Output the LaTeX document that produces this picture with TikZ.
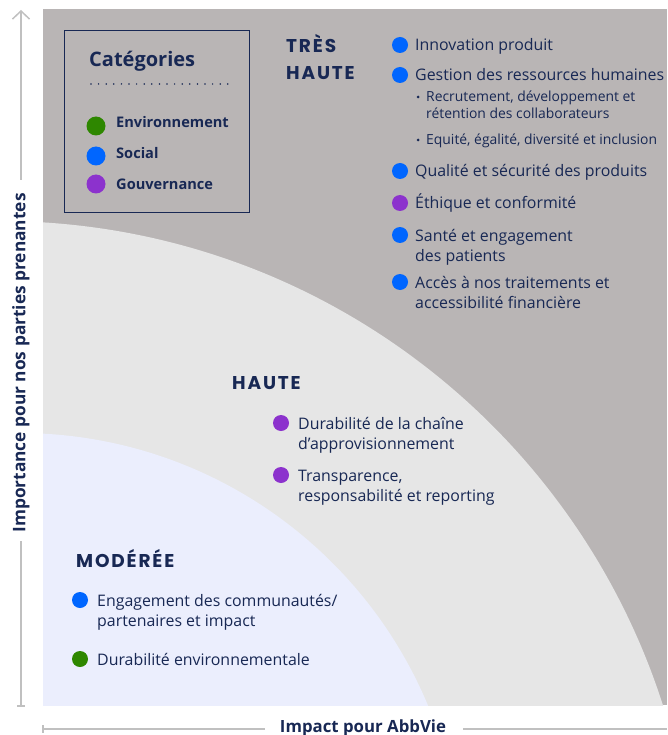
\documentclass[tikz,border=0pt]{standalone}
\usepackage{fontspec}
\setmainfont{Open Sans}
\newfontfamily\headfont{Poppins}[LetterSpace=10]
\usetikzlibrary{arrows.meta}
\definecolor{navy}{RGB}{24,40,84}
\definecolor{bgray}{RGB}{185,181,181}
\definecolor{lgray}{RGB}{230,230,230}
\definecolor{lav}{RGB}{235,238,253}
\definecolor{cblue}{RGB}{0,102,255}
\definecolor{cgreen}{RGB}{46,135,0}
\definecolor{cpurple}{RGB}{140,50,205}
\definecolor{axisc}{RGB}{192,192,192}
\begin{document}
\begin{tikzpicture}[x=1pt,y=-1pt,
  body/.style={anchor=base west, inner sep=0, text=navy, font=\fontsize{15.9}{20}\selectfont, align=left},
  sub/.style={anchor=base west, inner sep=0, text=navy, font=\fontsize{13.9}{17}\selectfont, align=left},
  head/.style={anchor=base west, inner sep=0, text=navy, font=\headfont\bfseries\fontsize{18.5}{27}\selectfont, align=left},
  leg/.style={anchor=base west, inner sep=0, text=navy, font=\bfseries\fontsize{14.6}{18}\selectfont},
  dot/.style={circle, inner sep=0, minimum size=16pt},
  ldot/.style={circle, inner sep=0, minimum size=19pt},
  sdot/.style={circle, inner sep=0, minimum size=3pt, fill=navy},
  axis/.style={draw=axisc, line width=1.5pt},
  axlab/.style={inner sep=0, text=navy, font=\bfseries\fontsize{16.8}{20}\selectfont},
]
\useasboundingbox (0,0) rectangle (667,735);
% background zones
\fill[bgray] (43,9) rectangle (667,705);
\begin{scope}
  \clip (43,9) rectangle (667,705);
  \fill[lgray] (-1,918) circle (697pt);
  \fill[lav] (19,876) circle (443pt);
\end{scope}

% legend
\node[draw=navy, line width=1.2pt, minimum width=185pt, minimum height=182pt, anchor=north west, inner sep=0] (legbox) at (64,30) {};
\node[anchor=base west, inner sep=0, text=navy, font=\bfseries\fontsize{20}{24}\selectfont] (legtitle) at (89,67) {Catégories};
\coordinate (dl0) at (91,84);
\coordinate (dl1) at (228,84);
\draw[navy, line width=1.7pt, dash pattern=on 0pt off 7.6pt, line cap=round] (dl0) -- (dl1);
\node[ldot, fill=cgreen] (lg) at (96,126) {};
\node[leg] (lgt) at (116,128) {Environnement};
\node[ldot, fill=cblue] (lb) at (96,156) {};
\node[leg] (lbt) at (116,159) {Social};
\node[ldot, fill=cpurple] (lp) at (96,184) {};
\node[leg] (lpt) at (116,190) {Gouvernance};

% TRES HAUTE (multi-line nodes: base = last line)
\node[head] (h1) at (286,80) {TRÈS\\HAUTE};
\node[dot, fill=cblue] (d1) at (400,45) {};
\node[body] (t1) at (415,51) {Innovation produit};
\node[dot, fill=cblue] (d2) at (400,75) {};
\node[body] (t2) at (415,81) {Gestion des ressources humaines};
\node[sdot] (s1) at (418,97) {};
\node[sub] (st1) at (426,119) {Recrutement, développement et\\rétention des collaborateurs};
\node[sdot] (s2) at (418,140) {};
\node[sub] (st2) at (426,145) {Equité, égalité, diversité et inclusion};
\node[dot, fill=cblue] (d3) at (400,171) {};
\node[body] (t3) at (415,177) {Qualité et sécurité des produits};
\node[dot, fill=cpurple] (d4) at (400,203) {};
\node[body] (t4) at (415,209) {Éthique et conformité};
\node[dot, fill=cblue] (d5) at (400,235) {};
\node[body] (t5) at (415,261) {Santé et engagement\\des patients};
\node[dot, fill=cblue] (d6) at (400,282) {};
\node[body] (t6) at (415,308) {Accès à nos traitements et\\accessibilité financière};

% HAUTE
\node[head] (h2) at (232,389) {HAUTE};
\node[dot, fill=cpurple] (d7) at (281,423) {};
\node[body] (t7) at (298,449) {Durabilité de la chaîne\\d’approvisionnement};
\node[dot, fill=cpurple] (d8) at (281,475) {};
\node[body] (t8) at (298,501) {Transparence,\\responsabilité et reporting};

% MODEREE
\node[head] (h3) at (76,567) {MODÉRÉE};
\node[dot, fill=cblue] (d9) at (80,600) {};
\node[body] (t9) at (97,626) {Engagement des communautés/\\partenaires et impact};
\node[dot, fill=cgreen] (d10) at (80,659) {};
\node[body] (t10) at (97,665) {Durabilité environnementale};

% vertical axis
\node[axlab, rotate=90, font=\bfseries\fontsize{17.3}{20}\selectfont] (ylab) at (21,363) {Importance pour nos parties prenantes};
\coordinate (ya) at (21,180);
\coordinate (yt) at (21,10);
\coordinate (yb) at (21,541);
\coordinate (ye) at (21,706);
\coordinate (yel) at (17,706);
\coordinate (yer) at (25,706);
\draw[axis, -{Straight Barb[length=8pt,width=17pt,line width=1.5pt]}] (ya) -- (yt);
\draw[axis] (yb) -- (ye);
\draw[axis] (yel) -- (yer);

% horizontal axis
\node[axlab, anchor=base] (xlab) at (363,732) {Impact pour AbbVie};
\coordinate (xa) at (43,729);
\coordinate (xb) at (265,729);
\coordinate (xc) at (463,729);
\coordinate (xd) at (667,729);
\coordinate (xtt) at (43,725);
\coordinate (xtb) at (43,733);
\draw[axis] (xa) -- (xb);
\draw[axis] (xc) -- (xd);
\draw[axis] (xtt) -- (xtb);
\end{tikzpicture}
\end{document}
